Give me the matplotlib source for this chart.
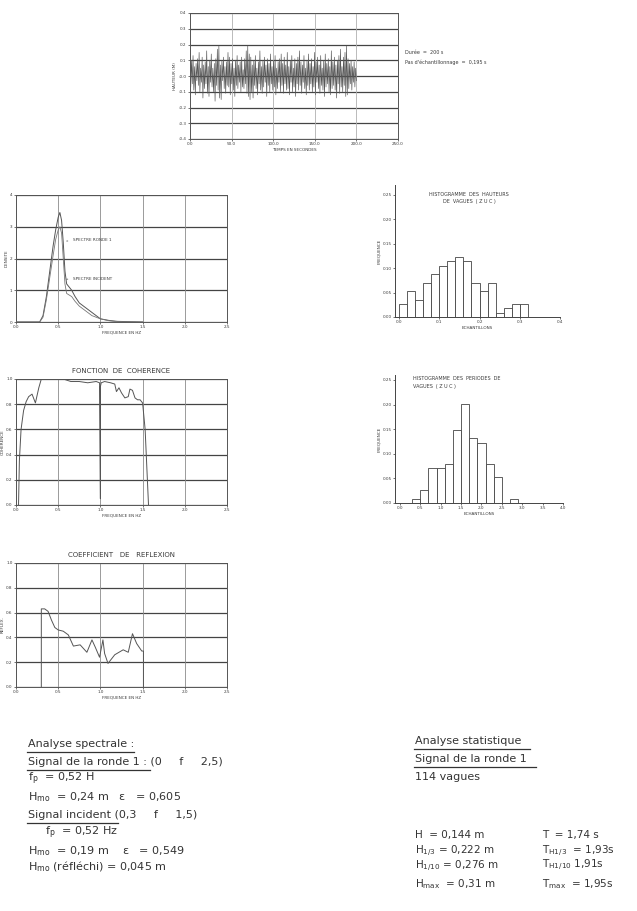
import numpy as np
import matplotlib
matplotlib.use('Agg')
import matplotlib.pyplot as plt
from matplotlib.lines import Line2D

plt.rcParams['font.family'] = ['DejaVu Sans']
plt.rcParams['mathtext.default'] = 'regular'

# --- signal de la ronde 1 (elevation, m), duree 200 s ---
sig = [0.04, -0.07, 0.10, -0.05, 0.13, -0.09, 0.06, -0.12, 0.08, -0.03,
       0.11, -0.06, 0.15, -0.10, 0.05, -0.04, 0.12, -0.14, 0.07, -0.08,
       0.09, -0.05, 0.16, -0.11, 0.06, -0.13, 0.10, -0.04, 0.14, -0.07,
       0.05, -0.10, 0.08, -0.16, 0.11, -0.06, 0.17, -0.09, 0.19, -0.14,
       0.07, -0.15, 0.10, -0.03, 0.12, -0.08, 0.06, -0.11, 0.09, -0.06,
       0.15, -0.07, 0.12, -0.12, 0.08, -0.05, 0.11, -0.09, 0.05, -0.13,
       0.10, -0.06, 0.13, -0.08, 0.07, -0.04, 0.09, -0.10, 0.12, -0.07,
       0.04, -0.08, 0.11, -0.05, 0.16, -0.11, 0.19, -0.13, 0.14, -0.15,
       0.12, -0.10, 0.07, -0.14, 0.10, -0.06, 0.13, -0.08, 0.05, -0.12,
       0.09, -0.05, 0.16, -0.09, 0.06, -0.11, 0.10, -0.07, 0.12, -0.04,
       0.07, -0.13, 0.11, -0.06, 0.08, -0.10, 0.14, -0.05, 0.06, -0.09,
       0.10, -0.07, 0.13, -0.12, 0.05, -0.08, 0.09, -0.04, 0.11, -0.10,
       0.14, -0.06, 0.08, -0.11, 0.12, -0.05, 0.07, -0.09, 0.15, -0.08,
       0.06, -0.12, 0.10, -0.04, 0.13, -0.10, 0.05, -0.07, 0.11, -0.13,
       0.08, -0.05, 0.12, -0.09, 0.16, -0.06, 0.09, -0.11, 0.07, -0.04,
       0.13, -0.08, 0.05, -0.12, 0.10, -0.06, 0.14, -0.09, 0.08, -0.05,
       0.11, -0.10, 0.06, -0.07, 0.15, -0.12, 0.09, -0.04, 0.12, -0.08,
       0.07, -0.11, 0.13, -0.06, 0.05, -0.09, 0.10, -0.13, 0.14, -0.07,
       0.08, -0.05, 0.11, -0.10, 0.06, -0.12, 0.16, -0.08, 0.09, -0.06,
       0.12, -0.09, 0.07, -0.14, 0.10, -0.05, 0.13, -0.11, 0.17, -0.07,
       0.06, -0.10, 0.12, -0.06, 0.15, -0.13, 0.19, -0.12, 0.11, -0.08,
       0.08, -0.05, 0.10, -0.09, 0.06, -0.04, 0.09, -0.07, 0.05, -0.03]
duree = 200.0

# --- spectres ---
f_spec = [0.0, 0.28, 0.32, 0.36, 0.40, 0.44, 0.47, 0.50, 0.52, 0.54, 0.56, 0.58,
          0.60, 0.63, 0.66, 0.70, 0.75, 0.80, 0.85, 0.90, 0.95, 1.0, 1.1, 1.2, 1.5]
s_ronde = [0, 0, 0.002, 0.008, 0.016, 0.024, 0.029, 0.033, 0.0345, 0.032, 0.025, 0.016,
           0.012, 0.011, 0.010, 0.008, 0.006, 0.005, 0.004, 0.003, 0.002, 0.001, 0.0005, 0.0002, 0]
s_incident = [0, 0, 0.0015, 0.007, 0.014, 0.021, 0.026, 0.029, 0.030, 0.028, 0.020, 0.012,
              0.009, 0.0085, 0.008, 0.0065, 0.005, 0.004, 0.003, 0.002, 0.0015, 0.001, 0.0004, 0.0001, 0]

# --- fonction de coherence ---
f_coh = [0.03, 0.04, 0.06, 0.09, 0.12, 0.15, 0.19, 0.23, 0.27, 0.30, 0.40, 0.56, 0.65,
         0.75, 0.85, 0.95, 0.99, 1.0, 1.0, 1.01, 1.05, 1.12, 1.17, 1.19, 1.22, 1.25,
         1.29, 1.33, 1.35, 1.38, 1.41, 1.44, 1.47, 1.50, 1.53, 1.57]
gamma = [0.0, 0.35, 0.6, 0.75, 0.82, 0.86, 0.88, 0.81, 0.93, 1.0, 1.0, 1.0, 0.98,
         0.98, 0.97, 0.98, 0.97, 0.05, 0.94, 0.97, 0.98, 0.97, 0.96, 0.90, 0.93, 0.89,
         0.85, 0.86, 0.92, 0.91, 0.85, 0.835, 0.835, 0.81, 0.6, 0.0]

# --- coefficient de reflexion ---
f_ref = [0.30, 0.30, 0.34, 0.38, 0.42, 0.46, 0.50, 0.56, 0.62, 0.68, 0.76, 0.84, 0.90,
         0.94, 0.99, 1.03, 1.05, 1.09, 1.17, 1.27, 1.33, 1.38, 1.43, 1.49, 1.51, 1.51]
refl = [0.0, 0.63, 0.63, 0.61, 0.54, 0.48, 0.46, 0.45, 0.42, 0.33, 0.34, 0.28, 0.38,
        0.32, 0.24, 0.38, 0.27, 0.19, 0.26, 0.30, 0.28, 0.43, 0.35, 0.29, 0.29, 0.0]

# --- histogrammes (114 vagues) ---
n_vagues = 114
h_counts = [3, 6, 4, 8, 10, 12, 13, 14, 13, 8, 6, 8, 1, 2, 3, 3]
h_bin = 0.02
t_counts = [1, 3, 8, 8, 9, 17, 23, 15, 14, 9, 6, 0, 1]
t_start = 0.3
t_bin = 0.2

W, H = 637, 911
fig = plt.figure(figsize=(W / 100, H / 100), dpi=100)
ink = '#3a3a3a'


def box(x0, y0, x1, y1):
    return [x0 / W, 1 - y1 / H, (x1 - x0) / W, (y1 - y0) / H]


def grid_axes(rect, xlim, xt, ylim, yt, vcol='#8a8a8a'):
    ax = fig.add_axes(rect)
    ax.set_xlim(*xlim)
    ax.set_ylim(*ylim)
    ax.set_xticks(xt)
    ax.set_yticks(yt)
    ax.set_xticklabels(['%.1f' % v for v in xt])
    ax.tick_params(labelsize=3, length=1.5, width=0.5, pad=1, colors=ink)
    for v in yt:
        ax.axhline(v, color='#444444', lw=0.9, zorder=1)
    for v in xt:
        ax.axvline(v, color=vcol, lw=0.6, zorder=1)
    for s in ax.spines.values():
        s.set_color('#555555')
        s.set_linewidth(0.7)
    return ax


# top: time series
t = np.linspace(0, duree, len(sig))
ax0 = grid_axes(box(190, 13, 398, 139), (0, 250), [0, 50, 100, 150, 200, 250],
                (-0.4, 0.4), np.arange(-0.4, 0.41, 0.1), vcol='#b0b0b0')
ax0.set_yticklabels(['%.1f' % v for v in np.arange(-0.4, 0.41, 0.1)])
ax0.plot(t, sig, color='#555555', lw=0.45, zorder=3)
ax0.set_xlabel('TEMPS EN SECONDES', fontsize=3, labelpad=1, color=ink)
ax0.set_ylabel('HAUTEUR (M)', fontsize=3, labelpad=1, color=ink)
fig.text(405 / W, 1 - 52 / H, 'Durée  =  200 s', fontsize=3.5, color=ink, va='center')
fig.text(405 / W, 1 - 62 / H, "Pas d'échantillonnage  =  0,195 s", fontsize=3.5,
         color=ink, va='center')

# spectrum
ax1 = grid_axes(box(16, 195, 227, 322), (0, 2.5), [0, 0.5, 1.0, 1.5, 2.0, 2.5],
                (0, 0.04), [0, 0.01, 0.02, 0.03, 0.04])
ax1.set_yticklabels(['0', '1', '2', '3', '4'])
ax1.plot(f_spec, s_ronde, color='#555555', lw=0.7, zorder=3)
ax1.plot(f_spec, s_incident, color='#777777', lw=0.6, zorder=3)
ax1.set_xlabel('FREQUENCE EN HZ', fontsize=3, labelpad=1, color=ink)
ax1.set_ylabel('DENSITE', fontsize=3, labelpad=1, color=ink)
ax1.annotate('SPECTRE RONDE 1', xy=(0.6, 0.0255), xytext=(0.68, 0.0258),
             fontsize=3, color=ink, va='center',
             arrowprops=dict(arrowstyle='-', lw=0.5, color=ink))
ax1.annotate('SPECTRE INCIDENT', xy=(0.6, 0.0135), xytext=(0.68, 0.0135),
             fontsize=3, color=ink, va='center',
             arrowprops=dict(arrowstyle='-', lw=0.5, color=ink))

# coherence
ax2 = grid_axes(box(16, 379, 227, 505), (0, 2.5), [0, 0.5, 1.0, 1.5, 2.0, 2.5],
                (0, 1.0), [0, 0.2, 0.4, 0.6, 0.8, 1.0])
ax2.set_yticklabels(['%.1f' % v for v in [0, 0.2, 0.4, 0.6, 0.8, 1.0]])
ax2.plot(f_coh, gamma, color='#555555', lw=0.7, zorder=3)
ax2.set_title('FONCTION  DE  COHERENCE', fontsize=5, color=ink, pad=4)
ax2.set_xlabel('FREQUENCE EN HZ', fontsize=3, labelpad=1, color=ink)
ax2.set_ylabel('COHERENCE', fontsize=3, labelpad=1, color=ink)

# reflection
ax3 = grid_axes(box(16, 563, 227, 687), (0, 2.5), [0, 0.5, 1.0, 1.5, 2.0, 2.5],
                (0, 1.0), [0, 0.2, 0.4, 0.6, 0.8, 1.0])
ax3.set_yticklabels(['%.1f' % v for v in [0, 0.2, 0.4, 0.6, 0.8, 1.0]])
ax3.plot(f_ref, refl, color='#555555', lw=0.7, zorder=3)
ax3.set_title('COEFFICIENT   DE   REFLEXION', fontsize=5, color=ink, pad=4)
ax3.set_xlabel('FREQUENCE EN HZ', fontsize=3, labelpad=1, color=ink)
ax3.set_ylabel('REFLEX.', fontsize=3, labelpad=1, color=ink)


def hist_axes(rect, edges, counts, xlim, xt, xfmt, ylim, title, tx, ty, ha):
    ax = fig.add_axes(rect)
    freq = np.array(counts) / n_vagues
    ax.bar(edges[:-1], freq, width=np.diff(edges), align='edge',
           facecolor='white', edgecolor='#444444', lw=0.6)
    ax.set_xlim(*xlim)
    ax.set_ylim(*ylim)
    ax.set_xticks(xt)
    ax.set_xticklabels([xfmt % v for v in xt])
    yt = [0, 0.05, 0.10, 0.15, 0.20, 0.25]
    ax.set_yticks(yt)
    ax.set_yticklabels(['%.2f' % v for v in yt])
    ax.tick_params(labelsize=3, length=1.5, width=0.5, pad=1, colors=ink)
    ax.spines['top'].set_visible(False)
    ax.spines['right'].set_visible(False)
    for s in ('left', 'bottom'):
        ax.spines[s].set_color('#444444')
        ax.spines[s].set_linewidth(0.7)
    ax.set_xlabel('ECHANTILLONS', fontsize=3, labelpad=1, color=ink)
    ax.set_ylabel('FREQUENCE', fontsize=3, labelpad=1, color=ink)
    ax.text(tx, ty, title, transform=ax.transAxes, fontsize=3.5, color=ink,
            ha=ha, va='top', linespacing=1.6)
    return ax


h_edges = np.arange(len(h_counts) + 1) * h_bin
hist_axes(box(395, 185, 560, 317), h_edges, h_counts, (-0.01, 0.4),
          [0, 0.1, 0.2, 0.3, 0.4], '%.1f', (0, 0.27),
          'HISTOGRAMME  DES  HAUTEURS\nDE  VAGUES  ( Z U C )', 0.45, 0.95, 'center')

t_edges = t_start + np.arange(len(t_counts) + 1) * t_bin
hist_axes(box(395, 375, 563, 503), t_edges, t_counts, (-0.12, 4.0),
          [0, 0.5, 1.0, 1.5, 2.0, 2.5, 3.0, 3.5, 4.0], '%.1f', (0, 0.26),
          'HISTOGRAMME  DES  PERIODES  DE\nVAGUES  ( Z U C )', 0.11, 0.99, 'left')

# --- texte du bas ---
tc = '#333333'
fs = 8


def txt(x, y, s, size=fs):
    fig.text(x / W, 1 - y / H, s, fontsize=size, color=tc, va='center', ha='left')


def uline(x0, x1, y):
    fig.add_artist(Line2D([x0 / W, x1 / W], [1 - y / H, 1 - y / H], color=tc, lw=0.9))


txt(28, 744, 'Analyse spectrale :')
uline(27, 134, 752)
txt(28, 762, 'Signal de la ronde 1 : (0     f     2,5)')
uline(27, 150, 770)
txt(28, 779, r'f$_{p}$  = 0,52 H')
txt(28, 797, r'H$_{mo}$  = 0,24 m   ε   = 0,605')
txt(28, 815, 'Signal incident (0,3     f     1,5)')
uline(27, 118, 823)
txt(45, 833, r'f$_{p}$  = 0,52 Hz')
txt(28, 851, r'H$_{mo}$  = 0,19 m    ε   = 0,549')
txt(28, 867, r'H$_{mo}$ (réfléchi) = 0,045 m')

txt(415, 741, 'Analyse statistique')
uline(414, 530, 749)
txt(415, 759, 'Signal de la ronde 1')
uline(414, 536, 767)
txt(415, 777, '114 vagues')
txt(415, 835, 'H  = 0,144 m', 7.5)
txt(542, 835, 'T  = 1,74 s', 7.5)
txt(415, 851, r'H$_{1/3}$ = 0,222 m', 7.5)
txt(542, 851, r'T$_{H1/3}$  = 1,93s', 7.5)
txt(415, 866, r'H$_{1/10}$ = 0,276 m', 7.5)
txt(542, 865, r'T$_{H1/10}$ 1,91s', 7.5)
txt(415, 884, r'H$_{max}$  = 0,31 m', 7.5)
txt(542, 884, r'T$_{max}$  = 1,95s', 7.5)

fig.savefig('out.png', dpi=100)
